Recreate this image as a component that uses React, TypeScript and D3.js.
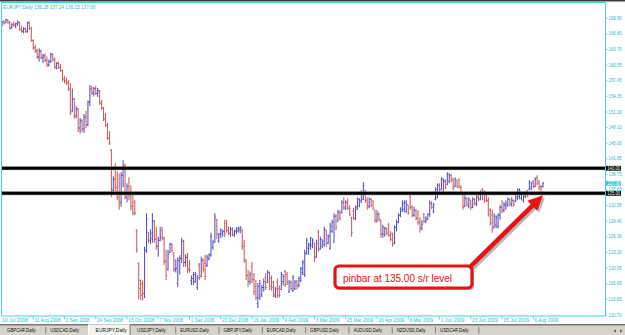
import React from "react";
import * as d3 from "d3";

// ---- data ----
const symbolTitle = "EURJPY,Daily";
const lastBarValues = ["136.28", "137.24", "136.15", "137.00"];

const priceTicks = [169.9, 166.8, 163.7, 160.55, 157.45, 154.35, 151.2, 148.1, 145.0, 141.85, 138.75, 135.65, 132.55, 129.4, 126.3, 123.2, 120.05, 116.95, 113.85, 110.7];

const dateLabels = ["10 Jul 2008", "11 Aug 2008", "2 Sep 2008", "24 Sep 2008", "16 Oct 2008", "7 Nov 2008", "1 Dec 2008", "23 Dec 2008", "16 Jan 2009", "9 Feb 2009", "3 Mar 2009", "25 Mar 2009", "16 Apr 2009", "8 May 2009", "1 Jun 2009", "23 Jun 2009", "15 Jul 2009", "6 Aug 2009"];
const dateLabelBars = [0, 16, 32, 48, 64, 80, 96, 112, 128, 144, 160, 176, 192, 208, 224, 240, 256, 272];

const srLevels = [140.0, 135.0];
const lastPrice = 137.0;
const pinbarIndex = 276;
const calloutText = "pinbar at 135.00 s/r level";

const tabs = ["GBPCHF,Daily", "USDCAD,Daily", "EURJPY,Daily", "USDJPY,Daily", "EURUSD,Daily", "GBPJPY,Daily", "EURCAD,Daily", "GBPUSD,Daily", "AUDUSD,Daily", "NZDUSD,Daily", "USDCHF,Daily"];
const activeTab = "EURJPY,Daily";

// [open, high, low, close]
const ohlc: [number, number, number, number][] = [
  [168.4, 169.4, 168.2, 169.2], [169.2, 169.5, 168.6, 168.9], [169.0, 169.8, 168.9, 169.6], [169.5, 169.7, 168.8, 169.0],
  [169.0, 169.4, 167.6, 167.9], [168.0, 168.9, 167.8, 168.7], [168.7, 169.3, 168.2, 168.5], [168.5, 169.0, 167.9, 168.8],
  [168.8, 169.5, 168.4, 169.1], [169.1, 169.2, 167.4, 167.6], [167.6, 168.4, 167.0, 167.3], [167.3, 168.1, 166.9, 167.8],
  [167.8, 168.0, 167.0, 167.2], [167.3, 169.2, 167.0, 169.0], [169.0, 169.3, 167.6, 167.8], [167.8, 168.2, 165.2, 165.5],
  [165.5, 165.7, 163.6, 164.0], [164.0, 164.6, 163.0, 163.4], [163.4, 163.8, 161.8, 162.2], [162.2, 163.9, 161.3, 163.4],
  [163.4, 163.6, 161.8, 162.0], [162.0, 162.8, 161.0, 162.4], [162.4, 162.9, 161.2, 161.5], [161.5, 162.3, 160.2, 160.6],
  [160.6, 161.7, 160.3, 161.3], [161.3, 163.1, 161.0, 162.7], [162.7, 162.9, 161.3, 161.6], [161.6, 162.1, 159.8, 160.2],
  [160.2, 161.2, 159.7, 160.9], [160.9, 161.3, 159.8, 160.1], [160.1, 160.8, 159.2, 159.5], [159.5, 159.7, 157.3, 157.8],
  [157.8, 158.4, 156.9, 157.4], [157.4, 158.1, 156.6, 157.0], [157.0, 157.6, 155.4, 155.8], [155.8, 157.0, 150.6, 151.0],
  [151.4, 155.9, 151.2, 153.8], [153.8, 154.0, 149.8, 150.4], [150.4, 152.4, 150.0, 151.8], [151.8, 152.0, 147.2, 148.0],
  [148.0, 150.0, 146.9, 149.4], [149.4, 149.8, 147.2, 147.8], [147.8, 150.8, 147.0, 150.2], [150.2, 151.4, 148.0, 148.6],
  [148.6, 153.5, 148.4, 153.2], [153.2, 156.6, 152.4, 155.8], [155.8, 156.4, 154.6, 155.0], [155.0, 156.2, 154.3, 155.9],
  [155.9, 156.4, 154.6, 154.9], [154.9, 156.0, 154.2, 155.4], [155.4, 155.6, 152.6, 153.0], [153.0, 153.6, 151.6, 152.0],
  [152.0, 152.2, 149.4, 149.8], [149.8, 151.0, 148.2, 148.6], [148.6, 149.0, 145.6, 146.0], [146.0, 147.4, 144.6, 145.0],
  [143.6, 143.8, 134.2, 135.6], [135.6, 138.4, 134.8, 137.8], [137.8, 141.0, 135.4, 136.2], [136.2, 139.4, 133.6, 134.2],
  [134.2, 139.0, 131.7, 133.2], [133.2, 139.2, 132.3, 138.6], [138.6, 141.6, 136.2, 140.4], [140.4, 141.0, 133.8, 134.2],
  [134.2, 137.0, 133.2, 136.4], [136.4, 138.2, 133.6, 134.4], [134.4, 136.6, 131.6, 132.4], [132.4, 134.6, 130.6, 131.0],
  [133.2, 133.6, 130.6, 131.0], [127.6, 127.8, 123.1, 123.8], [121.0, 121.2, 113.8, 116.0], [117.6, 117.8, 113.7, 114.6],
  [117.0, 117.6, 113.6, 115.0], [115.0, 124.3, 114.1, 123.6], [123.6, 131.0, 123.1, 129.8], [127.2, 127.2, 125.1, 125.6],
  [125.6, 127.8, 124.8, 127.0], [126.0, 131.0, 125.1, 129.4], [129.4, 129.7, 125.1, 125.8], [125.8, 128.3, 123.7, 124.4],
  [124.4, 126.3, 122.3, 125.6], [125.6, 128.3, 125.4, 126.2], [127.6, 128.3, 125.6, 126.0], [126.0, 126.3, 120.7, 121.4],
  [121.4, 123.7, 117.7, 118.6], [119.8, 123.7, 119.6, 122.8], [123.2, 125.1, 123.1, 124.8], [124.8, 125.0, 123.2, 123.6],
  [123.1, 123.2, 119.3, 119.8], [119.8, 121.8, 119.2, 120.0], [117.0, 122.2, 116.3, 121.6], [121.6, 122.6, 118.8, 122.0],
  [122.0, 126.1, 121.1, 125.4], [125.4, 125.7, 120.3, 121.2], [121.2, 122.8, 120.4, 122.2], [122.2, 123.1, 119.1, 119.8],
  [119.8, 121.6, 119.2, 119.6], [117.6, 118.6, 116.7, 118.0], [118.0, 119.3, 116.7, 118.8], [117.4, 119.3, 117.1, 118.9],
  [116.2, 118.7, 115.7, 118.2], [120.6, 121.1, 117.7, 118.0], [118.4, 122.3, 118.3, 121.6], [121.6, 122.0, 119.2, 119.8],
  [121.0, 122.7, 117.7, 118.4], [120.6, 122.7, 120.3, 122.2], [121.9, 123.0, 121.6, 122.7], [122.7, 127.1, 122.3, 126.4],
  [124.2, 125.7, 123.7, 125.2], [125.2, 131.0, 125.1, 130.2], [129.6, 129.9, 125.8, 126.8], [125.4, 127.1, 125.1, 126.8],
  [126.8, 128.0, 126.0, 127.6], [127.0, 127.7, 126.3, 127.4], [127.4, 129.7, 126.3, 127.0], [129.0, 129.7, 127.1, 127.6],
  [127.6, 128.4, 126.6, 127.0], [127.0, 128.3, 126.3, 127.8], [127.8, 128.2, 126.4, 126.8], [126.6, 127.7, 126.3, 127.4],
  [127.4, 128.2, 126.8, 127.8], [127.4, 128.3, 127.1, 128.0], [127.6, 128.4, 127.0, 128.1], [127.6, 127.9, 123.7, 124.4],
  [124.4, 125.7, 121.1, 121.8], [121.6, 121.7, 117.7, 118.6], [118.6, 119.7, 116.3, 117.4], [117.4, 119.4, 116.8, 118.8],
  [120.4, 121.3, 117.1, 117.8], [117.8, 119.1, 114.7, 115.4], [116.4, 117.7, 113.7, 114.2], [113.0, 117.1, 112.1, 116.4],
  [114.2, 117.7, 113.7, 117.0], [114.8, 116.7, 114.3, 116.2], [116.2, 118.0, 115.4, 117.4], [118.2, 119.1, 115.7, 116.2],
  [117.2, 119.7, 117.1, 119.2], [119.2, 119.3, 115.7, 116.4], [118.0, 118.6, 115.6, 116.2], [117.3, 117.5, 114.3, 114.8],
  [114.5, 116.3, 114.1, 115.9], [117.2, 118.0, 114.1, 114.6], [116.0, 116.6, 114.2, 114.6], [115.8, 119.3, 115.7, 118.8],
  [117.4, 118.8, 116.6, 118.4], [119.4, 119.7, 116.3, 116.8], [118.8, 119.3, 116.7, 117.2], [115.3, 117.7, 115.1, 117.2],
  [117.2, 117.6, 115.6, 116.0], [115.6, 118.7, 115.3, 118.2], [116.0, 117.7, 115.7, 117.3], [117.3, 117.7, 115.8, 116.6],
  [116.6, 118.4, 116.2, 118.0], [117.6, 120.3, 117.3, 119.9], [119.2, 121.7, 118.7, 121.2], [118.8, 123.7, 118.3, 123.0],
  [123.0, 126.1, 122.7, 125.6], [124.0, 125.1, 122.7, 124.8], [124.4, 126.3, 123.7, 126.0], [124.6, 126.0, 124.0, 125.6],
  [125.1, 125.1, 121.3, 122.0], [122.3, 125.7, 122.1, 125.0], [127.2, 127.7, 123.3, 123.8], [123.8, 126.3, 123.7, 125.8],
  [124.4, 125.8, 124.0, 125.4], [124.8, 128.3, 124.3, 127.8], [127.6, 127.7, 124.3, 125.0], [125.0, 126.8, 124.8, 126.4],
  [124.0, 129.1, 123.7, 128.4], [127.4, 129.7, 127.1, 129.2], [125.2, 131.0, 125.1, 130.4], [130.4, 130.8, 127.6, 128.2],
  [129.4, 131.7, 129.3, 131.2], [131.2, 131.6, 129.6, 130.0], [131.0, 133.6, 131.0, 133.2], [133.2, 134.2, 131.7, 132.2],
  [131.9, 133.6, 131.7, 133.2], [133.2, 134.0, 131.7, 132.0], [132.0, 132.6, 130.4, 130.8], [130.2, 130.3, 126.3, 127.2],
  [131.4, 132.1, 129.7, 130.0], [130.0, 132.6, 129.6, 132.2], [131.8, 134.2, 131.7, 133.8], [132.4, 134.0, 132.2, 133.6],
  [133.2, 135.6, 133.1, 135.2], [133.8, 137.2, 133.6, 136.6], [135.6, 135.6, 133.1, 133.6], [133.6, 134.2, 131.7, 132.4],
  [132.4, 134.2, 132.0, 133.8], [133.8, 134.0, 132.2, 132.6], [133.4, 133.6, 131.7, 132.0], [131.6, 131.7, 129.1, 129.6],
  [129.6, 131.6, 129.1, 130.8], [130.8, 131.2, 129.4, 129.8], [129.6, 129.7, 126.1, 126.8], [126.8, 128.7, 126.1, 128.2],
  [126.8, 128.3, 126.3, 128.0], [128.0, 128.2, 126.6, 127.0], [128.6, 129.1, 126.3, 126.6], [126.6, 127.4, 125.4, 125.8],
  [126.9, 127.1, 124.3, 124.8], [125.0, 128.6, 124.8, 128.2], [128.2, 129.7, 127.4, 129.2], [129.2, 131.0, 129.0, 130.6],
  [130.6, 132.2, 130.2, 131.8], [131.4, 133.6, 131.3, 133.0], [131.8, 133.6, 131.2, 133.2], [131.4, 133.6, 131.0, 132.8],
  [132.6, 132.6, 130.7, 131.0], [134.4, 134.6, 131.7, 132.2], [132.2, 132.6, 130.2, 130.6], [130.6, 132.3, 130.3, 131.6],
  [131.6, 131.8, 129.6, 130.0], [130.0, 131.6, 128.7, 129.2], [129.2, 130.2, 127.1, 128.0], [128.0, 129.6, 127.6, 128.8],
  [130.8, 131.0, 129.0, 129.4], [129.4, 130.4, 129.0, 130.0], [129.7, 131.0, 129.6, 130.8], [130.8, 133.6, 130.3, 133.0],
  [133.0, 133.4, 131.8, 132.2], [131.4, 133.0, 131.0, 132.8], [133.8, 136.2, 133.6, 135.8], [134.2, 137.0, 134.0, 136.6],
  [136.6, 137.0, 135.2, 135.6], [135.8, 138.2, 135.6, 137.8], [135.2, 138.0, 135.0, 137.4], [137.4, 137.8, 135.8, 136.2],
  [136.8, 139.2, 136.6, 138.8], [137.4, 139.0, 137.0, 138.6], [138.6, 138.8, 137.2, 137.6], [137.9, 138.0, 135.6, 136.0],
  [136.4, 138.2, 136.2, 137.8], [137.6, 137.6, 136.0, 136.4], [137.8, 138.0, 136.0, 136.2], [136.2, 136.6, 134.8, 135.2],
  [135.0, 135.0, 131.7, 132.2], [132.4, 134.6, 132.2, 134.0], [134.0, 134.2, 132.4, 132.8], [132.4, 134.2, 132.0, 133.8],
  [133.6, 133.6, 131.7, 132.2], [132.2, 134.2, 132.0, 133.8], [133.8, 134.0, 132.6, 133.0], [132.8, 134.6, 132.4, 134.2],
  [134.2, 134.8, 133.4, 134.0], [133.8, 135.6, 133.6, 135.2], [135.8, 136.0, 133.6, 134.0], [135.2, 135.6, 133.1, 133.6],
  [134.6, 135.2, 133.2, 133.4], [133.6, 134.2, 130.3, 130.8], [131.6, 132.0, 128.6, 129.0], [130.6, 131.7, 127.1, 127.8],
  [128.2, 131.0, 128.0, 130.4], [128.6, 130.6, 128.0, 130.2], [128.4, 131.0, 128.0, 130.6], [130.6, 132.6, 129.7, 132.2],
  [132.2, 133.6, 131.0, 131.6], [131.6, 133.2, 131.2, 132.8], [132.6, 133.6, 131.7, 133.0], [132.6, 134.2, 132.3, 133.8],
  [133.8, 134.0, 132.4, 132.8], [132.8, 134.2, 132.3, 133.6], [133.6, 133.7, 132.3, 132.8], [133.4, 135.2, 133.2, 134.8],
  [134.2, 136.0, 133.6, 135.6], [134.4, 136.0, 133.8, 135.4], [134.0, 135.0, 133.6, 134.8], [133.6, 134.6, 133.1, 134.4],
  [134.4, 135.4, 134.0, 135.0], [135.6, 135.6, 134.2, 134.4], [135.8, 137.6, 135.6, 137.2], [136.0, 137.2, 135.6, 137.0],
  [137.4, 137.6, 136.0, 136.4], [136.4, 138.2, 136.2, 137.8], [138.2, 138.6, 136.6, 137.0], [137.4, 137.6, 135.6, 136.0],
  [136.4, 136.6, 134.9, 136.3], [136.28, 137.24, 136.15, 137.0],
];

const FONT = "'Liberation Sans', Arial, sans-serif";
const CYAN_LINE = "#46d2de";
const CYAN_TEXT = "#2fb9c9";
const UP = "#3333b8";
const DOWN = "#c24040";

function Tiny(props: { x: number; y: number; text: string; perChar?: number; size?: number; fill?: string; weight?: number }) {
  const { x, y, text, perChar = 2.3, size = 5, fill = "#000", weight = 400 } = props;
  return (
    <text x={x} y={y} fontSize={size} fill={fill} fontFamily={FONT} fontWeight={weight}
      textLength={text.length * perChar} lengthAdjust="spacingAndGlyphs">{text}</text>
  );
}

export default function App() {
  const W = 625, H = 335;
  const left = 1.5, right = 605.5, top = 2.5, bottom = 316;
  const x = d3.scaleLinear().domain([0, ohlc.length - 1]).range([2, 543]);
  const y = d3.scaleLinear().domain([110.7, 169.9]).range([315, 18.3]);

  const upPath = d3.path();
  const dnPath = d3.path();
  ohlc.forEach(([o, h, l, c], i) => {
    const p = c >= o ? upPath : dnPath;
    const px = x(i);
    p.moveTo(px, y(h));
    p.lineTo(px, y(l));
    p.moveTo(px - 1.1, y(o));
    p.lineTo(px, y(o));
    p.moveTo(px, y(c));
    p.lineTo(px + 1.1, y(c));
  });

  // callout arrow geometry (tip at the pinbar low)
  const tipX = x(pinbarIndex) + 2;
  const tipY = y(ohlc[pinbarIndex][2]) + 1.5;
  const sx = 469, sy = 268;
  const len = Math.hypot(tipX - sx, tipY - sy);
  const ux = (tipX - sx) / len, uy = (tipY - sy) / len;
  const nx = -uy, ny = ux;
  const headL = 15, headW = 7;
  const bx = tipX - ux * headL, by = tipY - uy * headL;
  const head = `M${tipX},${tipY} L${bx + nx * headW},${by + ny * headW} L${bx - nx * headW},${by - ny * headW} Z`;
  const lineEndX = tipX - ux * 12, lineEndY = tipY - uy * 12;

  const tabStep = 43.3;

  return (
    <div style={{ position: "absolute", left: 0, top: 0, width: W, height: H, background: "#fff" }}>
      <svg width={W} height={H} viewBox={`0 0 ${W} ${H}`} style={{ display: "block" }}>
        <rect x={0} y={0} width={W} height={H} fill="#fff" />
        <rect x={0} y={0} width={W} height={1.5} fill="#3a3a3a" />

        <defs>
          <clipPath id="plot">
            <rect x={left} y={top} width={right - left} height={bottom - top} />
          </clipPath>
        </defs>

        {/* header */}
        <Tiny x={3.3} y={8.6} fill={CYAN_TEXT} text={`${symbolTitle} ${lastBarValues.join(" ")}`} perChar={2.3} size={5.2} />

        {/* bars */}
        <g clipPath="url(#plot)">
          <path d={dnPath.toString()} stroke={DOWN} strokeWidth={1.05} fill="none" opacity={0.85} />
          <path d={upPath.toString()} stroke={UP} strokeWidth={1.05} fill="none" opacity={0.85} />
        </g>

        {/* s/r lines */}
        {srLevels.map((lv) => (
          <g key={lv}>
            <line x1={left} x2={right} y1={y(lv)} y2={y(lv)} stroke="#999" strokeWidth={4.4} opacity={0.6} />
            <line x1={left} x2={right} y1={y(lv)} y2={y(lv)} stroke="#000" strokeWidth={3} />
          </g>
        ))}

        {/* frame */}
        <line x1={left} x2={right} y1={top} y2={top} stroke={CYAN_LINE} strokeWidth={1} />
        <line x1={left} x2={left} y1={top} y2={bottom} stroke={CYAN_LINE} strokeWidth={1} />
        <line x1={right} x2={right} y1={top} y2={bottom} stroke={CYAN_LINE} strokeWidth={1} />
        <line x1={left} x2={right} y1={bottom} y2={bottom} stroke={CYAN_LINE} strokeWidth={1} />

        {/* price axis */}
        {priceTicks.map((t) => (
          <g key={t}>
            <line x1={right} x2={right + 2} y1={y(t)} y2={y(t)} stroke={CYAN_LINE} strokeWidth={0.8} />
            <Tiny x={608.5} y={y(t) + 1.5} fill={CYAN_TEXT} text={t.toFixed(2)} perChar={2.2} size={4.6} />
          </g>
        ))}
        {srLevels.map((lv) => (
          <g key={"b" + lv}>
            <rect x={606} y={y(lv) - 2.3} width={15} height={4.8} fill="#000" />
            <Tiny x={607.2} y={y(lv) + 1.6} fill="#fff" text={lv.toFixed(2)} perChar={2.15} size={4.5} />
          </g>
        ))}
        <rect x={606} y={y(lastPrice) - 2.3} width={15} height={4.8} fill="#35c8d8" />
        <Tiny x={607.2} y={y(lastPrice) + 1.6} fill="#fff" text={lastPrice.toFixed(2)} perChar={2.15} size={4.5} />

        {/* date axis */}
        {dateLabels.map((lab, k) => {
          const px = k === 0 ? left : x(dateLabelBars[k]);
          return (
            <g key={lab}>
              {k > 0 && <line x1={px} x2={px} y1={bottom} y2={319.5} stroke={CYAN_LINE} strokeWidth={0.8} />}
              <Tiny x={k === 0 ? 2 : px + 1.3} y={322} fill={CYAN_TEXT} text={lab} perChar={2.36} size={5} />
            </g>
          );
        })}

        {/* tab bar */}
        <rect x={0} y={324.5} width={W} height={H - 324.5} fill="#d6d3cb" />
        <line x1={0} x2={W} y1={324.8} y2={324.8} stroke="#444" strokeWidth={1} />
        {tabs.map((t, k) => {
          const tx = 7 + k * tabStep;
          const active = t === activeTab;
          return (
            <g key={t}>
              {active && (
                <g>
                  <rect x={tx - 5} y={324.3} width={41.5} height={11} fill="#f3f2ee" />
                  <line x1={tx - 5} x2={tx - 5} y1={324.5} y2={335} stroke="#fff" strokeWidth={1} />
                  <line x1={tx + 36.5} x2={tx + 36.5} y1={324.5} y2={335} stroke="#777" strokeWidth={1} />
                </g>
              )}
              {!active && k > 0 && tabs[k - 1] !== activeTab && (
                <line x1={tx - 4.5} x2={tx - 4.5} y1={327} y2={333.5} stroke="#6a6a6a" strokeWidth={0.8} />
              )}
              <Tiny x={active ? tx + 2 : tx} y={332} fill="#111" text={t} perChar={active ? 2.6 : 2.4} size={5.6} />
            </g>
          );
        })}
        <line x1={7 + tabs.length * tabStep - 4.5} x2={7 + tabs.length * tabStep - 4.5} y1={327} y2={333.5} stroke="#6a6a6a" strokeWidth={0.8} />
        <path d="M616,329.5 L613.5,331 L616,332.5 Z" fill="#555" />
        <path d="M620,329.5 L622.5,331 L620,332.5 Z" fill="#555" />

        {/* callout */}
        <g>
          <line x1={sx + 2} y1={sy + 2} x2={lineEndX + 2} y2={lineEndY + 2} stroke="#9a9a9a" strokeWidth={4.5} opacity={0.7} />
          <path d={head} transform="translate(2,2)" fill="#9a9a9a" opacity={0.7} />
          <rect x={337} y={268} width={137} height={22} rx={4} fill="#9a9a9a" opacity={0.7} />
          <rect x={335} y={266} width={137} height={22} rx={4} fill="#fff" stroke="#e51414" strokeWidth={3.2} />
          <line x1={sx} y1={sy} x2={lineEndX} y2={lineEndY} stroke="#e51414" strokeWidth={4.5} />
          <path d={head} fill="#e51414" />
          <text x={343} y={281.5} fontSize={10.5} fill="#e01010" fontFamily={FONT}
            textLength={109} lengthAdjust="spacingAndGlyphs">{calloutText}</text>
        </g>
      </svg>
    </div>
  );
}
